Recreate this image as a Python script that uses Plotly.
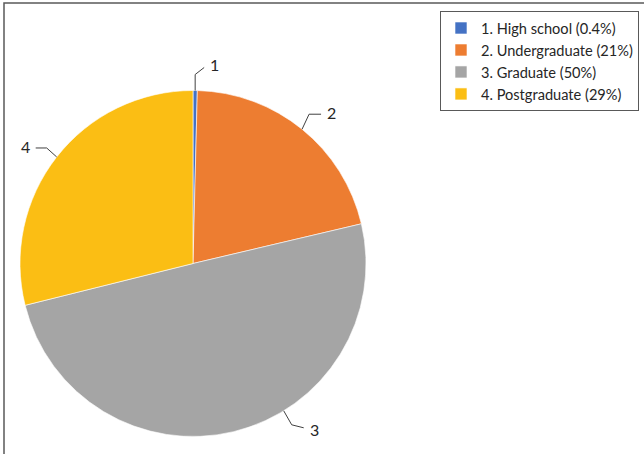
import math
import plotly.graph_objects as go

# Education level shares (%)
labels = ["1. High school (0.4%)", "2. Undergraduate (21%)", "3. Graduate (50%)", "4. Postgraduate (29%)"]
short_labels = ["1", "2", "3", "4"]
shares = [0.4, 21, 50, 29]
colors = ["#4472C4", "#ED7D31", "#A5A5A5", "#FBBE14"]

W, H = 644, 454
CX, CY, R = 193, 263.5, 173  # pie centre and radius in pixels

fig = go.Figure(go.Pie(
    labels=labels,
    values=shares,
    sort=False,
    direction="clockwise",
    rotation=0,
    textinfo="none",
    hoverinfo="label+value",
    marker=dict(colors=colors, line=dict(color="white", width=0.6)),
    domain=dict(x=[(CX - R) / W, (CX + R) / W],
                y=[(H - CY - R) / H, (H - CY + R) / H]),
))


def px(x, y):
    return x / W, 1 - y / H


# leader-line layout: anchor angle offset (deg), elbow and end offsets (px),
# label side and vertical nudge of the label text
leader_style = [
    dict(shift=0, elbow=(0, -16), end=(9, -23), side="right", dy=-3),
    dict(shift=0, elbow=(7, -15), end=(19, -15), side="right", dy=-2),
    dict(shift=-18, elbow=(8, 14), end=(20, 17), side="right", dy=2),
    dict(shift=0, elbow=(-10, -9), end=(-21, -9), side="left", dy=-1),
]

total = sum(shares)
start = 0.0
for name, val, st in zip(short_labels, shares, leader_style):
    mid = start + val / total * 180.0
    start += val / total * 360.0
    ang = math.radians(mid + st["shift"])
    ax, ay = CX + R * math.sin(ang), CY - R * math.cos(ang)
    ex, ey = ax + st["elbow"][0], ay + st["elbow"][1]
    tx, ty = ax + st["end"][0], ay + st["end"][1]
    p0, p1, p2 = px(ax, ay), px(ex, ey), px(tx, ty)
    fig.add_shape(type="path", xref="paper", yref="paper",
                  path=f"M {p0[0]},{p0[1]} L {p1[0]},{p1[1]} L {p2[0]},{p2[1]}",
                  line=dict(color="#404040", width=1))
    lx = tx + (4 if st["side"] == "right" else -4)
    lp = px(lx, ty + st["dy"])
    fig.add_annotation(x=lp[0], y=lp[1], xref="paper", yref="paper", text=name,
                       showarrow=False,
                       xanchor="left" if st["side"] == "right" else "right",
                       yanchor="middle",
                       font=dict(family="Lato, Open Sans, sans-serif", size=16, color="#262626"))

# chart frame (left and top edges)
fig.add_shape(type="path", xref="paper", yref="paper",
              path=f"M {4 / W},0 L {4 / W},{1 - 3 / H} L 1,{1 - 3 / H}",
              line=dict(color="#595959", width=1.5))

fig.update_layout(
    width=W, height=H,
    margin=dict(l=0, r=0, t=0, b=0, autoexpand=False),
    paper_bgcolor="white",
    plot_bgcolor="white",
    showlegend=True,
    legend=dict(
        x=639 / W, y=1 - 11 / H, xanchor="right", yanchor="top",
        bordercolor="#595959", borderwidth=1,
        bgcolor="white",
        font=dict(family="Lato, Open Sans, sans-serif", size=14.6, color="#262626"),
        itemwidth=30,
    ),
)

fig.write_html("out.html")
